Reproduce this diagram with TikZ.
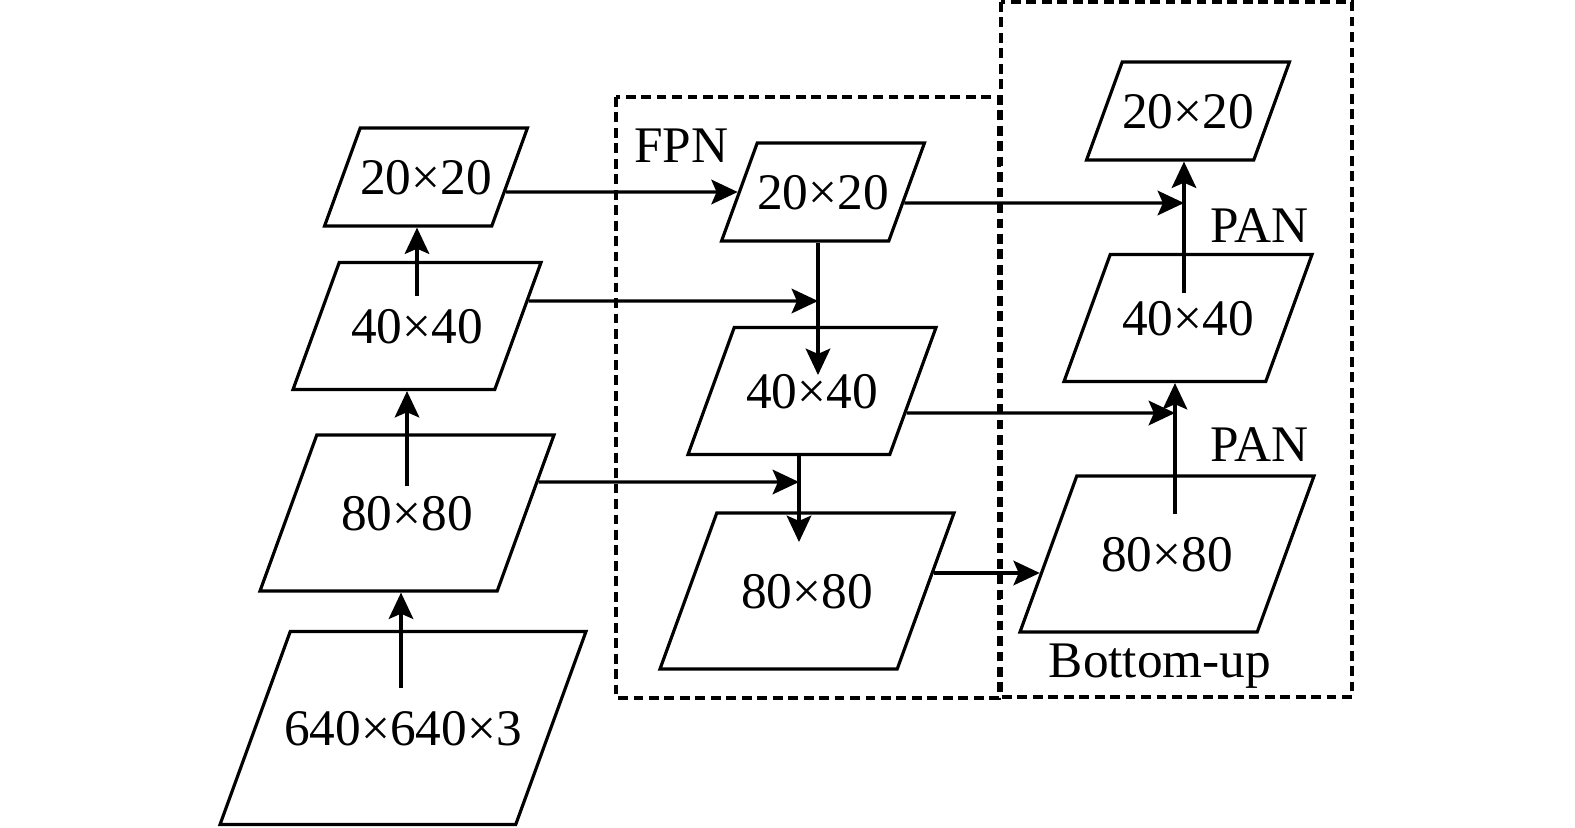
\documentclass[tikz,border=0pt]{standalone}
\usepackage{fontspec}
\setmainfont{Liberation Serif}
\usetikzlibrary{shapes.geometric,arrows.meta}
\newcommand{\fmfont}{\fontsize{14.6}{17}\selectfont}

\begin{document}
\begin{tikzpicture}
    \tikzset{fmap/.style={draw,trapezium,trapezium left angle=70,trapezium right angle=110,
                trapezium stretches body=true,line width=0.9pt,inner sep=0pt,font=\fmfont}}
    \tikzset{fm20/.style={fmap,text height=0.66cm,text depth=0.32cm,minimum width=2.02cm},
             fm40/.style={fmap,text height=0.805cm,text depth=0.465cm,minimum width=2.48cm},
             fm80/.style={fmap,text height=0.95cm,text depth=0.61cm,minimum width=2.94cm},
             fmin/.style={fmap,text height=1.135cm,text depth=0.795cm,inner xsep=-0.06cm,minimum width=3.64cm}}
    \tikzset{arr/.style={line width=0.9pt,-{Stealth[length=7.5pt,width=7pt,inset=1.5pt]}}}
    \tikzset{group/.style={draw,line width=0.9pt,dash pattern=on 2.8pt off 1.6pt}}
    \tikzset{tag/.style={font=\fmfont,inner sep=0pt,anchor=base}}

    \useasboundingbox (0,0) rectangle (15.75,8.27);

    % groups
    \draw[group] (6.16,7.30) rectangle (9.99,1.29);
    \draw[group] (10.01,8.25) rectangle (13.52,1.30);
    \node[tag] (fpn) at (6.815,6.65) {FPN};
    \node[tag] (pan1) at (12.595,5.85) {PAN};
    \node[tag] (pan2) at (12.595,3.66) {PAN};
    \node[tag] (bu) at (11.60,1.50) {Bottom-up};

    % backbone
    \node[fmin] (L640) at (4.03,0.99) {640×640×3};
    \node[fm80] (L80) at (4.07,3.14) {80×80};
    \node[fm40] (L40) at (4.17,5.01) {40×40};
    \node[fm20] (L20) at (4.26,6.50) {20×20};

    % FPN
    \node[fm20] (F20) at (8.23,6.35) {20×20};
    \node[fm40] (F40) at (8.12,4.36) {40×40};
    \node[fm80] (F80) at (8.07,2.36) {80×80};

    % PAN
    \node[fm20] (P20) at (11.88,7.16) {20×20};
    \node[fm40] (P40) at (11.88,5.09) {40×40};
    \node[fm80] (P80) at (11.67,2.73) {80×80};

    \coordinate (s1) at (4.01,1.39);
    \coordinate (s2) at (4.07,3.41);
    \coordinate (s3) at (4.17,5.31);
    \coordinate (s4) at (11.75,3.13);
    \coordinate (s5) at (11.84,5.34);
    \coordinate (t1) at (8.18,4.52);
    \coordinate (t2) at (7.99,2.85);
    \coordinate (j1) at (8.18,5.26);
    \coordinate (j2) at (7.99,3.45);
    \coordinate (j3) at (11.84,6.24);
    \coordinate (j4) at (11.75,4.14);
    \coordinate (j5) at (9.90,2.54);

    % upward
    \draw[arr] (s1) -- (s1 |- L80.south);
    \draw[arr] (s2) -- (s2 |- L40.south);
    \draw[arr] (s3) -- (s3 |- L20.south);
    \draw[arr] (s4) -- (s4 |- P40.south);
    \draw[arr] (s5) -- (s5 |- P20.south);

    % downward
    \draw[arr] (t1 |- F20.south) -- (t1);
    \draw[arr] (t2 |- F40.south) -- (t2);

    % lateral
    \draw[arr] (intersection of L20.top right corner--L20.bottom right corner and F20.west--F20.east) -- (F20.west);
    \draw[arr] (intersection of L40.top right corner--L40.bottom right corner and j1--j1 -| L40.east) -- (j1);
    \draw[arr] (intersection of L80.top right corner--L80.bottom right corner and j2--j2 -| L80.east) -- (j2);
    \draw[arr] (intersection of F20.top right corner--F20.bottom right corner and j3--j3 -| F20.east) -- (j3);
    \draw[arr] (intersection of F40.top right corner--F40.bottom right corner and j4--j4 -| F40.east) -- (j4);
    \draw[arr] (intersection of F80.top right corner--F80.bottom right corner and j5--j5 -| F80.east)
        -- (intersection of P80.top left corner--P80.bottom left corner and j5--j5 -| F80.east);
\end{tikzpicture}
\end{document}
